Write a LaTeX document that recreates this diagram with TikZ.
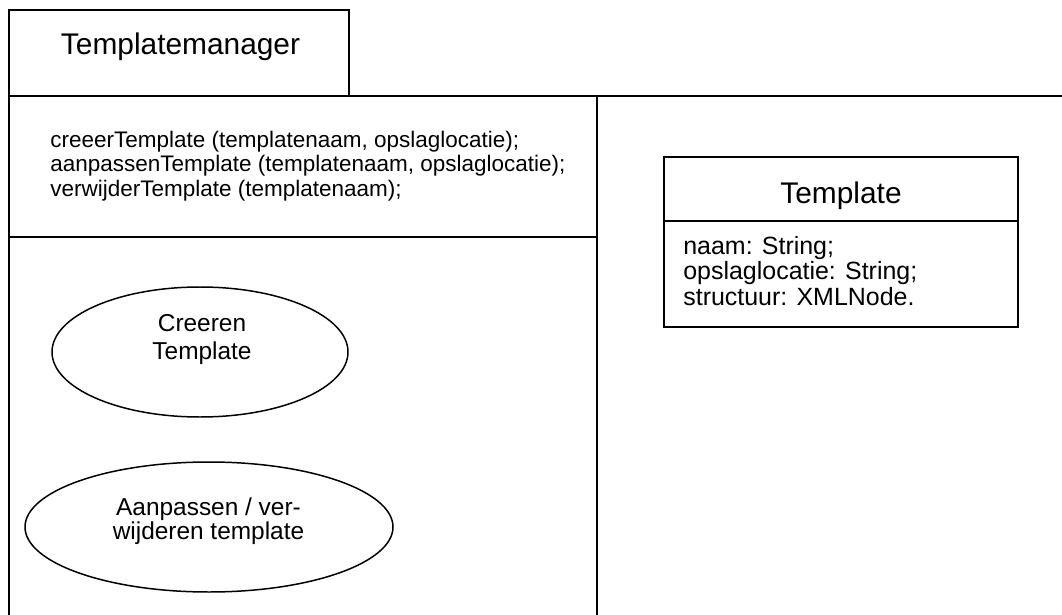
\documentclass[tikz,border=0pt]{standalone}
\usepackage{fontspec}
\setmainfont{Liberation Sans}
\begin{document}
\begin{tikzpicture}[
    frame/.style={line width=1.1pt},
    classbox/.style={line width=0.85pt},
    usecase/.style={line width=0.85pt},
    titletext/.style={inner sep=0pt, font=\fontsize{17}{20}\selectfont},
    methodtext/.style={inner sep=0pt, align=left, font=\fontsize{12.8}{13.9}\selectfont},
    attrtext/.style={inner sep=0pt, align=left, font=\fontsize{14.2}{14.5}\selectfont},
    casetext/.style={inner sep=0pt, align=center}
]
\useasboundingbox (0,0) rectangle (21.24,-12.30);
% manager tab and its panel
\draw[frame] (0.18,-1.92) rectangle (6.98,-0.20);
\draw[frame] (0.18,-1.92) -- (21.24,-1.92);
\draw[frame] (0.18,-0.20) -- (0.18,-12.30);
\draw[frame] (11.94,-1.92) -- (11.94,-12.30);
\draw[frame] (0.18,-4.74) -- (11.94,-4.74);
\node[titletext, anchor=base] (mgr) at (3.61,-1.10) {Templatemanager};
\node[methodtext, anchor=north west] (ops) at (1.00,-2.61) {creeerTemplate (templatenaam, opslaglocatie);\\aanpassenTemplate (templatenaam, opslaglocatie);\\verwijderTemplate (templatenaam);};
% use cases
\draw[usecase] (4.00,-7.04) ellipse (2.96 and 1.30);
\node[casetext, font=\fontsize{13.9}{15.9}\selectfont] (creeren) at (4.04,-6.79) {Creeren\\Template};
\draw[usecase] (4.18,-10.54) ellipse (3.68 and 1.30);
\node[casetext, font=\fontsize{13.9}{13.7}\selectfont] (aanpassen) at (4.17,-10.42) {Aanpassen / ver-\\wijderen template};
% class Template
\draw[classbox] (13.28,-3.14) rectangle (20.36,-6.54);
\draw[classbox] (13.28,-4.42) -- (20.36,-4.42);
\node[titletext, anchor=base] (tpl) at (16.82,-4.06) {Template};
\node[attrtext, anchor=north west] (attrs) at (13.66,-4.72) {naam: String;\\opslaglocatie: String;\\structuur: XMLNode.};
\end{tikzpicture}
\end{document}
